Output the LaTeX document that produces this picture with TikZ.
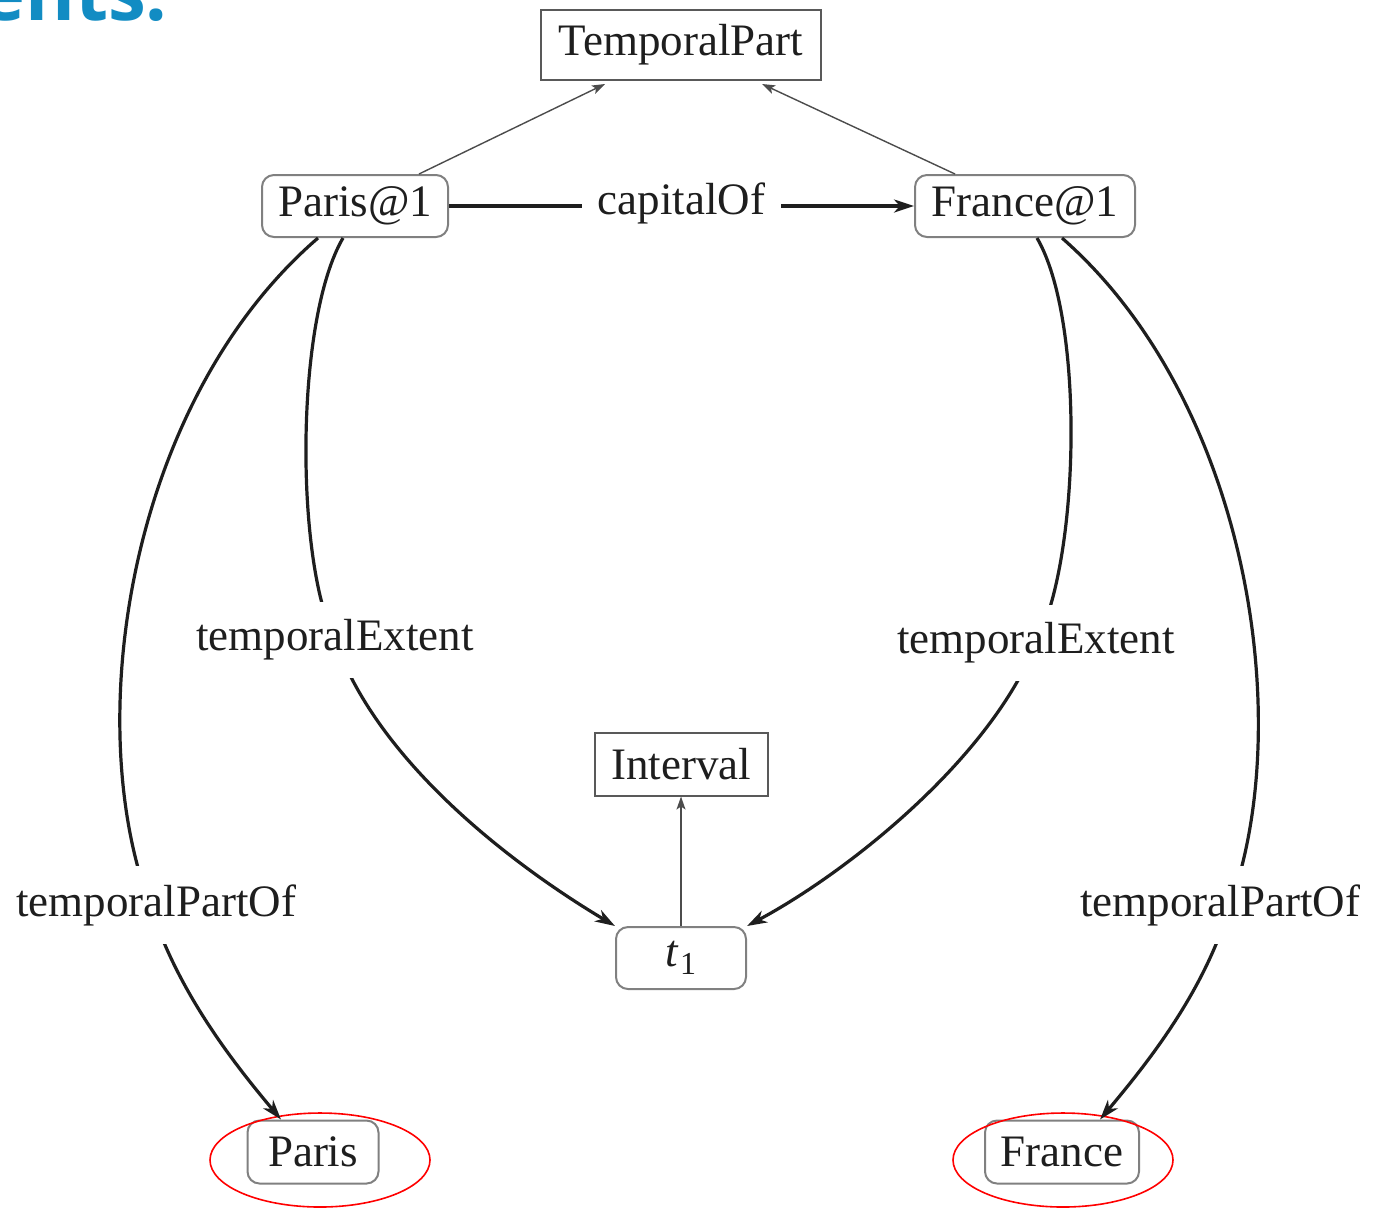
\documentclass[tikz,border=0pt]{standalone}
\usepackage{fontspec}
\setmainfont{Liberation Serif}
\newfontfamily\headfont{Open Sans}
\usetikzlibrary{arrows.meta,shapes.geometric}
\definecolor{headblue}{RGB}{18,140,195}
\definecolor{ink}{RGB}{30,30,30}
\begin{document}
\begin{tikzpicture}[x=0.5pt,y=-0.5pt,
  lbl/.style={font=\fontsize{22.5}{27}\selectfont, text=ink},
  rectbox/.style={lbl, draw=black!65, line width=1pt, inner sep=0pt},
  roundbox/.style={lbl, draw=black!50, line width=1pt, rounded corners=6pt, inner sep=0pt},
  edgelbl/.style={lbl, fill=white, inner xsep=8pt, inner ysep=9pt},
  bigarrow/.style={draw=ink, line width=1.6pt, -{Stealth[length=10pt,width=6.5pt,inset=3pt]}},
  thinarrow/.style={draw=black!70, line width=0.7pt, -{Stealth[length=6.5pt,width=4.5pt,inset=1.5pt]}},
  ring/.style={draw=red, line width=0.8pt, ellipse, inner sep=0pt}
]
\useasboundingbox (0,0) rectangle (1374,1207);
\clip (0,0) rectangle (1374,1207);
\fill[white] (0,0) rectangle (1374,1207);

% clipped heading
\node[anchor=base east, inner sep=0pt, text=headblue, font=\headfont\bfseries\fontsize{38}{40}\selectfont] (head) at (168,20) {ents:};

% nodes
\node[rectbox, minimum width=140pt, minimum height=35pt] (tp) at (681,45) {TemporalPart};
\node[roundbox, minimum width=93pt, minimum height=31pt] (paris1) at (355,206) {Paris@1};
\node[roundbox, minimum width=110pt, minimum height=31pt] (france1) at (1025,206) {France@1};
\node[rectbox, minimum width=86.5pt, minimum height=31.5pt] (interval) at (681,764) {Interval};
\node[roundbox, minimum width=65pt, minimum height=31pt] (t1) at (681,958) {\textit{t}\kern0.5pt\raisebox{-4pt}{\fontsize{16}{16}\selectfont 1}};
\node[roundbox, minimum width=65.5pt, minimum height=31.5pt] (paris) at (313,1152) {Paris};
\node[roundbox, minimum width=77pt, minimum height=31.5pt] (france) at (1062,1152) {France};

% red rings
\node[ring, minimum width=110pt, minimum height=47pt] (parisring) at (320,1160) {};
\node[ring, minimum width=110pt, minimum height=47pt] (francering) at (1063,1160) {};

% thin arrows
\draw[thinarrow] ([xshift=32pt]paris1.north) -- ([xshift=-38pt,yshift=-1.5pt]tp.south);
\draw[thinarrow] ([xshift=-35pt]france1.north) -- ([xshift=40.5pt,yshift=-1.5pt]tp.south);
\draw[thinarrow] (t1.north) -- (interval.south);

% capitalOf
\draw[bigarrow] (paris1.east) -- node[edgelbl, yshift=1.5pt] (capof) {capitalOf} (france1.west);

% temporalExtent left
\draw[bigarrow] ([xshift=-6pt]paris1.south) .. controls (295,320) and (295,560) .. (335,640)
  node[edgelbl] (teL) {temporalExtent}
  .. controls (377,760) and (508,862) .. (t1.north west);

% temporalExtent right
\draw[bigarrow] ([xshift=6pt]france1.south) .. controls (1085,320) and (1080,560) .. (1036,643)
  node[edgelbl] (teR) {temporalExtent}
  .. controls (990,759) and (848,872) .. (t1.north east);

% temporalPartOf left
\draw[bigarrow] ([xshift=-18.5pt]paris1.south) .. controls (130,400) and (80,720) .. (150,905)
  node[edgelbl, xshift=3pt] (tpoL) {temporalPartOf}
  .. controls (177,990) and (231,1060) .. ([xshift=-16pt]paris.north);

% temporalPartOf right
\draw[bigarrow] ([xshift=18.5pt]france1.south) .. controls (1247,400) and (1297,720) .. (1230,905)
  node[edgelbl, xshift=-5pt] (tpoR) {temporalPartOf}
  .. controls (1205,990) and (1150,1060) .. ([xshift=19pt]france.north);
\end{tikzpicture}
\end{document}
